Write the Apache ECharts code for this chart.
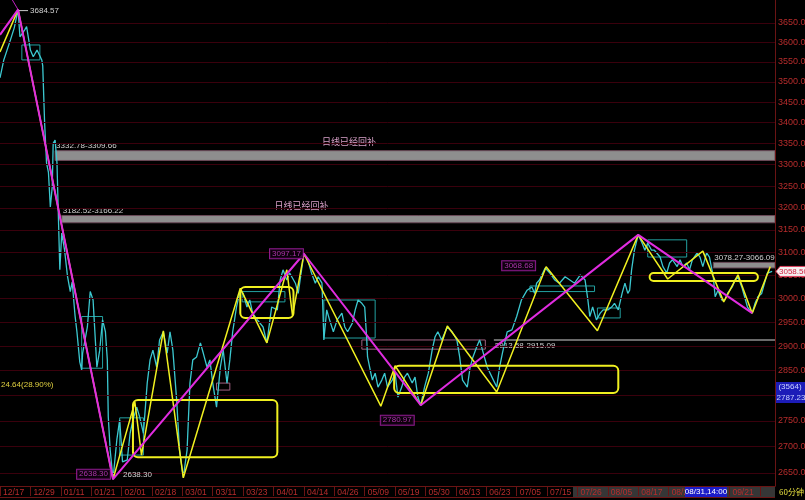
<!DOCTYPE html>
<html><head><meta charset="utf-8">
<script src="https://cdn.jsdelivr.net/npm/echarts@6/dist/echarts.min.js"></script>
<style>html,body{margin:0;padding:0;background:#000;}#c{width:805px;height:500px;}</style>
</head><body><div id="c"></div>
<script>
// ---------------- data ----------------
const tickLabels = ['12/17','12/29','01/11','01/21','02/01','02/18','03/01','03/11','03/23','04/01','04/14','04/26','05/09','05/19','05/30','06/13','06/23','07/05','07/15','07/26','08/05','08/17','08/29','09/09','09/21'];
const barCount = 817;
const barsPerTick = 32;
const priceLevels = [2650,2700,2750,2800,2850,2900,2950,3000,3050,3100,3150,3200,3250,3300,3350,3400,3450,3500,3550,3600,3650];

// 60-minute price trace: [bar, price]
const trace = [[0,3510],[4,3555],[11,3606],[15,3637],[19,3684.57],[21,3614],[26,3632],[28,3640],[32,3580],[35,3563],
[39,3580],[44,3555],[45,3540],[47,3398],[49,3304],[51,3282],[53,3202],[55,3248],[56,3350],[58,3358],
[60,3304],[61,3218],[63,3062],[65,3143],[68,3105],[71,3049],[74,3015],[76,3036],[79,2964],[81,2930],
[84,2868],[86,2851],[87,2886],[92,2940],[95,3015],[98,2997],[102,2857],[105,2892],[108,2955],[111,2930],
[113,2872],[114,2758],[116,2694],[119,2638.30],[123,2713],[126,2752],[129,2671],[134,2675],[137,2726],[140,2752],
[144,2777],[147,2758],[151,2726],[155,2825],[158,2872],[161,2892],[165,2857],[168,2913],[172,2930],[176,2886],
[179,2930],[182,2892],[186,2791],[189,2694],[193,2642],[197,2694],[200,2825],[203,2872],[207,2878],[211,2907],
[214,2886],[218,2857],[221,2872],[224,2825],[228,2777],[232,2857],[235,2892],[239,2825],[242,2872],[245,2930],
[249,2982],[253,3018],[256,3011],[260,2982],[263,2997],[266,2969],[271,2955],[277,2940],[281,2907],[286,2982],
[292,2976],[295,3040],[298,3062],[302,3040],[305,3055],[311,3033],[314,3011],[318,3069],[320,3097.17],[324,3084],
[328,3055],[332,3033],[335,3047],[339,3033],[340,2976],[341,2913],[344,2976],[347,2955],[351,2930],[355,2955],
[360,2969],[363,2940],[366,2930],[371,2948],[374,2976],[377,2997],[381,2990],[384,2982],[386,2919],[387,2878],
[392,2831],[395,2845],[398,2817],[402,2831],[405,2845],[408,2817],[413,2831],[416,2845],[419,2797],[423,2817],
[426,2837],[429,2845],[434,2825],[437,2837],[440,2797],[443,2780.97],[447,2817],[451,2845],[455,2892],[458,2919],
[461,2930],[465,2913],[471,2940],[476,2930],[481,2913],[484,2878],[487,2831],[492,2817],[495,2857],[498,2878],
[502,2899],[505,2913],[508,2892],[513,2857],[518,2837],[523,2817],[526,2857],[529,2886],[534,2930],[539,2934],
[544,2962],[549,2997],[555,3018],[560,3025],[563,3011],[565,3033],[568,3040],[574,3066],[579,3055],[584,3040],
[589,3033],[595,3047],[600,3040],[605,3033],[611,3051],[616,3040],[619,2997],[621,2962],[624,2982],[628,2955],
[632,2969],[635,2976],[640,2976],[644,2982],[647,2990],[651,2976],[655,3011],[658,3033],[661,3011],[663,3018],
[665,3062],[668,3105],[672,3139],[676,3121],[679,3105],[682,3121],[686,3105],[689,3105],[695,3090],[698,3069],
[702,3055],[705,3077],[708,3084],[713,3069],[716,3084],[719,3069],[723,3077],[726,3062],[729,3084],[734,3099],
[737,3090],[740,3069],[744,3099],[747,3090],[751,3047],[753,3004],[756,3018],[760,2997],[763,2997],[766,3011],
[771,3025],[774,3040],[777,3047],[781,3025],[784,3004],[787,2982],[792,2969],[795,2990],[798,3004],[802,3011],
[805,3033],[808,3055],[813,3058.50]];

// major swing (magenta) and minor swing (yellow) pivots: [bar, price]
const majorSwing = [[0,3619],[19,3684.57],[119,2638.30],[320,3097.17],[443,2780.97],[672,3139],[792,2969]];
const majorLead = [[13,3710],[19,3684.57]];
const minorSwing = [[0,3575],[19,3684.57],[119,2638.30],[142,2787],[149,2684],[172,2932],[193,2641],[253,3022],
[281,2907],[302,3062],[308,2964],[320,3097.17],[401,2779],[416,2860],[443,2780.97],[471,2942],[523,2807],
[575,3068.68],[629,2932],[672,3139],[703,3042],[740,3103],[762,2993],[777,3051],[792,2969],[811,3069]];

// yellow pivot boxes
const yBoxFrom = [140, 253, 415, 684];
const yBoxTo   = [292, 309, 651, 798];
const yBoxTop  = [2791, 3025, 2860, 3055];
const yBoxBot  = [2680, 2959, 2805, 3038];

// teal consolidation boxes
const tBoxFrom = [23, 86, 126, 255, 341, 558, 629, 682];
const tBoxTo   = [42, 108, 151, 300, 395, 626, 653, 723];
const tBoxTop  = [3593, 2962, 2756, 3015, 2997, 3027, 2980, 3128];
const tBoxBot  = [3555, 2855, 2684, 2993, 2917, 3015, 2959, 3090];

// pink boxes
const pBoxFrom = [381, 228];
const pBoxTo   = [511, 242];
const pBoxTop  = [2913, 2825];
const pBoxBot  = [2894, 2811];

// gaps: start bar, first price, second price
const gapFrom = [58, 65, 520, 751];
const gapA = [3332.78, 3182.52, 2913.58, 3078.27];
const gapB = [3309.66, 3166.22, 2915.09, 3066.09];
const gapNoteBar = [339, 289];
const gapNoteText = ['日线已经回补', '日线已经回补'];

// tagged pivots
const tagBars = [119, 320, 443, 575];
const tagVals = [2638.30, 3097.17, 2780.97, 3068.68];
const extremeBars = [19, 119];
const extremeVals = [3684.57, 2638.30];
const lastPrice = 3058.50;

// ---------------- chart ----------------
const NUM = "'Liberation Sans', Arial, sans-serif";
const CJK = "'Noto Sans CJK SC', sans-serif";
const categories = Array.from({length: barCount}, (_, i) => {
  const t = tickLabels[Math.min(Math.floor(i / barsPerTick), tickLabels.length - 1)];
  return i % barsPerTick === 0 ? t : t + '+' + (i % barsPerTick);
});
const lastBar = barCount - 1;

function boxSeries(from, to, top, bot, style, r, z) {
  return {
    type: 'custom', silent: true, z: z, clip: true,
    data: from.map((f, i) => [f, top[i], to[i], bot[i]]),
    encode: {x: [0, 2], y: [1, 3]},
    renderItem: (params, api) => {
      const p1 = api.coord([api.value(0), api.value(1)]);
      const p2 = api.coord([api.value(2), api.value(3)]);
      return {type: 'rect', shape: {x: p1[0], y: p1[1], width: p2[0] - p1[0], height: Math.max(p2[1] - p1[1], 1), r: r}, style: style};
    }
  };
}

const tagOffsets = [[3, -5], [1, 0], [7, 15], [11, -1]];

const option = {
  backgroundColor: '#000',
  animation: false,
  grid: {left: 0, right: 30, top: 0, bottom: 14},
  xAxis: {
    type: 'category', data: categories, boundaryGap: false, z: 10,
    axisLine: {lineStyle: {color: '#6a1414'}},
    axisTick: {show: true, interval: (i) => i % barsPerTick === 0, length: 10, lineStyle: {color: '#6a1414'}},
    axisLabel: {interval: (i) => i % barsPerTick === 0, formatter: (v, i) => tickLabels[i / barsPerTick],
      align: 'left', margin: 2, padding: [0, 0, 0, 3], color: '#b82c2c', fontSize: 8.5, fontFamily: NUM},
    splitLine: {show: false}
  },
  yAxis: {
    type: 'log', logBase: 10, min: 2625.6, max: 3709.8, position: 'right',
    axisLine: {show: true, lineStyle: {color: '#6a1414'}},
    axisLabel: {show: false}, axisTick: {show: false}, splitLine: {show: false}
  },
  series: [
    { // price grid + right labels
      type: 'line', data: [[0, 2650]], symbol: 'none', lineStyle: {opacity: 0}, silent: true, z: 1,
      markLine: {
        silent: true, symbol: ['none', 'none'],
        lineStyle: {color: '#3a000c', width: 1, type: 'solid', opacity: 1},
        label: {show: true, position: 'end', distance: 3, color: '#b82c2c', fontSize: 9, fontFamily: NUM},
        data: priceLevels.map(v => ({yAxis: v, label: {formatter: v.toFixed(2)}}))
      }
    },
    { // gap bands
      type: 'custom', silent: true, z: 2, clip: true,
      data: gapFrom.map((f, i) => [f, gapA[i], lastBar, gapB[i]]),
      encode: {x: [0, 2], y: [1, 3]},
      renderItem: (params, api) => {
        const a = api.value(1), b = api.value(3);
        const p1 = api.coord([api.value(0), Math.max(a, b)]);
        const p2 = api.coord([api.value(2), Math.min(a, b)]);
        const h = Math.max(p2[1] - p1[1], 2);
        const below = a < b;
        return {type: 'group', children: [
          {type: 'rect', shape: {x: p1[0], y: p1[1], width: p2[0] - p1[0], height: h},
           style: {fill: below ? '#6a6a6a' : '#8e8e8e', stroke: below ? null : '#6a4a58', lineWidth: 1}},
          {type: 'text', x: p1[0] + 1, y: below ? p1[1] + h + 1 : p1[1] - 1,
           style: {text: a.toFixed(2) + '-' + b.toFixed(2), fill: '#d0d0d0', font: '8px ' + NUM,
                   verticalAlign: below ? 'top' : 'bottom'}}
        ]};
      }
    },
    { // gap notes
      type: 'custom', silent: true, z: 2, clip: false,
      data: gapNoteBar.map((b, i) => [b, gapA[i]]),
      renderItem: (params, api) => {
        const p = api.coord([api.value(0), api.value(1)]);
        return {type: 'text', x: p[0], y: p[1] - 5,
          style: {text: gapNoteText[params.dataIndex], fill: '#d8a0c8', font: '9px ' + CJK, verticalAlign: 'bottom'}};
      }
    },
    boxSeries(tBoxFrom, tBoxTo, tBoxTop, tBoxBot, {fill: 'none', stroke: '#23a0a0', lineWidth: 1}, 0, 3),
    boxSeries(pBoxFrom, pBoxTo, pBoxTop, pBoxBot, {fill: 'none', stroke: '#a06080', lineWidth: 1}, 0, 3),
    { // price trace
      type: 'line', data: trace, showSymbol: false, symbol: 'none', silent: true, z: 4,
      lineStyle: {color: '#3cc8d0', width: 1.3}
    },
    { // minor swing
      type: 'line', data: minorSwing, symbol: 'none', silent: true, z: 5,
      lineStyle: {color: '#f0f020', width: 1.5}
    },
    boxSeries(yBoxFrom, yBoxTo, yBoxTop, yBoxBot, {fill: 'none', stroke: '#f0f020', lineWidth: 2}, 5, 5),
    { // major swing
      type: 'line', data: majorSwing, symbol: 'none', silent: true, z: 6,
      lineStyle: {color: '#e02ce0', width: 2}
    },
    {
      type: 'line', data: majorLead, symbol: 'none', silent: true, z: 6,
      lineStyle: {color: '#c020c0', width: 1}
    },
    { // tagged pivots
      type: 'scatter', symbolSize: 0, silent: true, z: 8,
      data: tagBars.map((b, i) => ({
        value: [b, tagVals[i]],
        label: {show: true, position: 'left', distance: tagOffsets[i][0], offset: [0, tagOffsets[i][1]],
          formatter: tagVals[i].toFixed(2), color: '#d040d0', fontSize: 8, fontFamily: NUM,
          borderColor: '#b020b0', borderWidth: 1, padding: [1, 2, 0, 2], backgroundColor: '#0c000c'}
      }))
    },
    { // extremes
      type: 'custom', silent: true, z: 8, clip: false,
      data: extremeBars.map((b, i) => [b, extremeVals[i]]),
      renderItem: (params, api) => {
        const p = api.coord([api.value(0), api.value(1)]);
        const txt = api.value(1).toFixed(2);
        if (params.dataIndex === 0) {
          return {type: 'group', children: [
            {type: 'line', shape: {x1: p[0] + 1, y1: p[1] + 1, x2: p[0] + 10, y2: p[1] + 1}, style: {stroke: '#c8c8c8', lineWidth: 1}},
            {type: 'text', x: p[0] + 12, y: p[1] + 1, style: {text: txt, fill: '#d0d0d0', font: '8px ' + NUM, verticalAlign: 'middle'}}
          ]};
        }
        return {type: 'text', x: p[0] + 10, y: p[1] - 4, style: {text: txt, fill: '#d0d0d0', font: '8px ' + NUM, verticalAlign: 'middle'}};
      }
    },
    { // last price tag
      type: 'custom', silent: true, z: 9, clip: false,
      data: [[lastBar, lastPrice]],
      renderItem: (params, api) => {
        const p = api.coord([api.value(0), api.value(1)]);
        return {type: 'group', children: [
          {type: 'polygon', shape: {points: [[p[0] + 1, p[1]], [p[0] + 5, p[1] - 5], [p[0] + 31, p[1] - 5], [p[0] + 31, p[1] + 5], [p[0] + 5, p[1] + 5]]},
           style: {fill: '#f4f0f0', stroke: '#e04060', lineWidth: 1}},
          {type: 'text', x: p[0] + 4, y: p[1], style: {text: api.value(1).toFixed(2), fill: '#d02040', font: '8px ' + NUM, verticalAlign: 'middle'}}
        ]};
      }
    }
  ],
  graphic: [
    {type: 'rect', z: 1, shape: {x: 573, y: 487, width: 202, height: 10}, style: {fill: '#363636'}},
    {type: 'line', z: 11, shape: {x1: 0, y1: 497.5, x2: 775, y2: 497.5}, style: {stroke: '#6a1414', lineWidth: 1}},
    {type: 'rect', z: 20, shape: {x: 685, y: 487, width: 42, height: 10}, style: {fill: '#1c1cc8'}},
    {type: 'text', z: 21, x: 706, y: 492, style: {text: '08/31,14:00', fill: '#ffffff', font: '8px ' + NUM, align: 'center', verticalAlign: 'middle'}},
    {type: 'text', z: 21, x: 779, y: 492, style: {text: '60分钟', fill: '#e8e040', font: '8px ' + CJK, verticalAlign: 'middle'}},
    {type: 'rect', z: 20, shape: {x: 776, y: 382, width: 29, height: 21}, style: {fill: '#1c1cb8'}},
    {type: 'text', z: 21, x: 790, y: 387, style: {text: '(3564)', fill: '#c8d0ff', font: '8px ' + NUM, align: 'center', verticalAlign: 'middle'}},
    {type: 'text', z: 21, x: 791, y: 398, style: {text: '2787.23', fill: '#c8d0ff', font: '8px ' + NUM, align: 'center', verticalAlign: 'middle'}},
    {type: 'text', z: 21, x: 1, y: 385, style: {text: '24.64(28.90%)', fill: '#e0d040', font: '8px ' + NUM, verticalAlign: 'middle'}}
  ]
};
echarts.init(document.getElementById('c')).setOption(option);
</script></body></html>
